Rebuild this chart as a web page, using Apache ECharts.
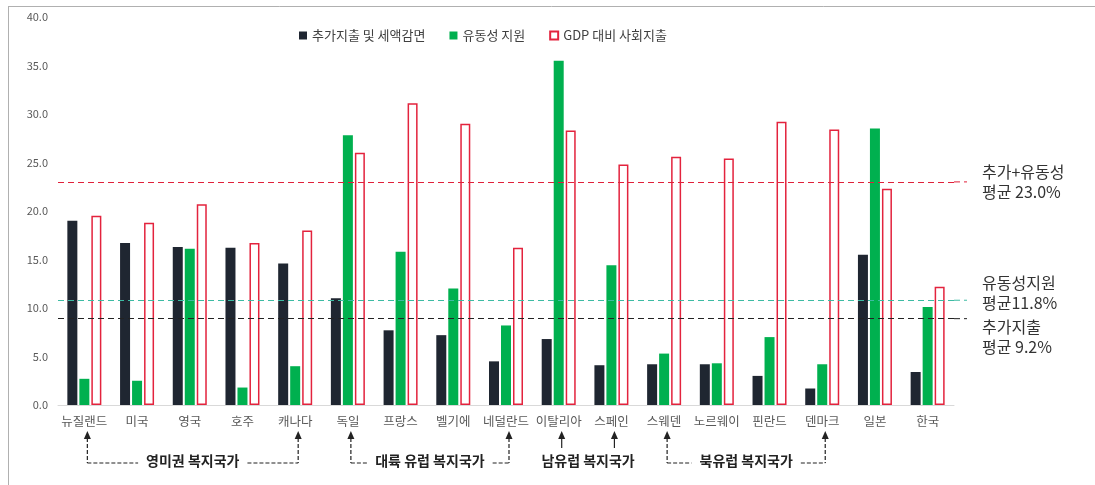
<!DOCTYPE html>
<html>
<head>
<meta charset="utf-8">
<script src="https://cdn.jsdelivr.net/npm/echarts@6.0.0/dist/echarts.min.js"></script>
<style>
  html, body { margin: 0; padding: 0; background: #fff; }
  #chart { width: 1095px; height: 485px; }
</style>
</head>
<body>
<div id="chart"></div>
<script>
// 국가 목록
const categories = ['뉴질랜드', '미국', '영국', '호주', '캐나다', '독일', '프랑스', '벨기에', '네덜란드',
  '이탈리아', '스페인', '스웨덴', '노르웨이', '핀란드', '덴마크', '일본', '한국'];

// 시리즈 값 (GDP 대비 %)
const extraSpending = [19.0, 16.7, 16.3, 16.2, 14.6, 11.0, 7.7, 7.2, 4.5, 6.8, 4.1, 4.2, 4.2, 3.0, 1.7, 15.5, 3.4];
const liquidity = [2.7, 2.5, 16.1, 1.8, 4.0, 27.8, 15.8, 12.0, 8.2, 35.5, 14.4, 5.3, 4.3, 7.0, 4.2, 28.5, 10.1];
const socialSpending = [19.5, 18.8, 20.7, 16.7, 18.0, 26.0, 31.1, 29.0, 16.2, 28.3, 24.8, 25.6, 25.4, 29.2, 28.4, 22.3, 12.2];

const seriesNames = ['추가지출 및 세액감면', '유동성 지원', 'GDP 대비 사회지출'];

// 평균선 (그림에서 읽은 위치)
const avgValues = [23.0, 10.8, 8.9];
const avgLabels = ['추가+유동성\n평균 23.0%', '유동성지원\n평균11.8%', '추가지출\n평균 9.2%'];
const avgColors = ['#e0203a', '#3dbba3', '#222222'];
const avgLabelOffsets = [0, -7, 18];

// y축 눈금
const yMin = 0, yMax = 40, yStep = 5;

// 국가 그룹 주석
const groupNames = ['영미권 복지국가', '대륙 유럽 복지국가', '남유럽 복지국가', '북유럽 복지국가'];
const groupFrom = ['뉴질랜드', '독일', '이탈리아', '스웨덴'];
const groupTo = ['캐나다', '네덜란드', '스페인', '덴마크'];
const groupBracket = [true, true, false, true];

const FONT = '"Noto Sans CJK KR", "Noto Sans", sans-serif';

const chart = echarts.init(document.getElementById('chart'));

const option = {
  backgroundColor: '#fff',
  animation: false,
  textStyle: { fontFamily: FONT },
  legend: {
    top: 24,
    left: 294,
    itemWidth: 8,
    itemHeight: 8,
    itemGap: 24,
    icon: 'rect',
    textStyle: { fontSize: 13, color: '#404040', fontFamily: FONT },
    data: seriesNames
  },
  grid: { left: 58, right: 141, top: 17, bottom: 80 },
  xAxis: {
    type: 'category',
    data: categories,
    axisTick: { show: false },
    axisLine: { lineStyle: { color: '#d9d9d9' } },
    axisLabel: { interval: 0, color: '#595959', fontSize: 12.5, margin: 10, fontFamily: FONT }
  },
  yAxis: {
    type: 'value',
    min: yMin,
    max: yMax,
    interval: yStep,
    axisLine: { show: false },
    axisTick: { show: false },
    splitLine: { show: false },
    axisLabel: {
      color: '#595959', fontSize: 11, margin: 10, fontFamily: FONT,
      formatter: v => v.toFixed(1)
    }
  },
  series: [
    {
      name: seriesNames[0],
      type: 'bar',
      data: extraSpending,
      barWidth: 10,
      barGap: '20%',
      itemStyle: { color: '#1f2631' },
      markLine: {
        silent: true,
        symbol: 'none',
        label: { show: false },
        data: avgValues.map((v, i) => ({
          yAxis: v,
          lineStyle: { color: avgColors[i], type: [6, 4], width: 1 }
        }))
      }
    },
    {
      name: seriesNames[1],
      type: 'bar',
      data: liquidity,
      barWidth: 10,
      barGap: '20%',
      itemStyle: { color: '#00b04f' }
    },
    {
      name: seriesNames[2],
      type: 'bar',
      data: socialSpending,
      barWidth: 10,
      barGap: '20%',
      itemStyle: { color: '#ffffff', borderColor: '#e3233d', borderWidth: 1.5 }
    }
  ]
};

chart.setOption(option);

// 주석 그리기
const measure = (() => {
  const ctx = document.createElement('canvas').getContext('2d');
  return (text, font) => { ctx.font = font; return ctx.measureText(text).width; };
})();

const graphics = [];
const gridRight = 1095 - 141;

// 오른쪽 평균 라벨
avgValues.forEach((v, i) => {
  const y = chart.convertToPixel({ yAxisIndex: 0 }, v);
  graphics.push({
    type: 'text',
    left: gridRight + 28,
    top: y + avgLabelOffsets[i] - 20,
    style: { text: avgLabels[i], font: '16px ' + FONT, fill: '#333', lineHeight: 20 }
  });
  // 평균선 끝 연장
  graphics.push({
    type: 'line',
    shape: { x1: gridRight, y1: y, x2: gridRight + 13, y2: y },
    style: { stroke: avgColors[i], lineWidth: 1, lineDash: [6, 4] }
  });
});

// 아래 그룹 주석
const tipY = 431, baseY = 463;
const labelFont = 'bold 14px ' + FONT;
const dashStyle = { stroke: '#222', lineWidth: 1.2, lineDash: [4, 2] };
const solidStyle = { stroke: '#222', lineWidth: 1.2 };
const arrow = (x, bracket) => {
  graphics.push({
    type: 'polygon',
    shape: { points: [[x, tipY], [x - 3.5, tipY + 8], [x + 3.5, tipY + 8]] },
    style: { fill: '#222' }
  });
  graphics.push({
    type: 'line',
    shape: { x1: x, y1: tipY + 7, x2: x, y2: bracket ? baseY : tipY + 17 },
    style: bracket ? dashStyle : solidStyle
  });
};
groupNames.forEach((name, i) => {
  const x1 = chart.convertToPixel({ xAxisIndex: 0 }, groupFrom[i]) + 3;
  const x2 = chart.convertToPixel({ xAxisIndex: 0 }, groupTo[i]) + 3;
  const cx = (x1 + x2) / 2;
  const w = measure(name, labelFont);
  arrow(x1, groupBracket[i]);
  arrow(x2, groupBracket[i]);
  graphics.push({
    type: 'text',
    left: cx - w / 2,
    top: baseY - 9,
    style: { text: name, font: labelFont, fill: '#222' }
  });
  if (groupBracket[i]) {
    graphics.push({
      type: 'line',
      shape: { x1: x1, y1: baseY, x2: cx - w / 2 - 8, y2: baseY },
      style: dashStyle
    });
    graphics.push({
      type: 'line',
      shape: { x1: cx + w / 2 + 8, y1: baseY, x2: x2, y2: baseY },
      style: dashStyle
    });
  }
});

// 바깥 테두리 (위, 왼쪽)
graphics.push({
  type: 'line',
  shape: { x1: 8, y1: 6.5, x2: 1095, y2: 6.5 },
  style: { stroke: '#b0b0b0', lineWidth: 1 }
});
graphics.push({
  type: 'line',
  shape: { x1: 8.5, y1: 6, x2: 8.5, y2: 485 },
  style: { stroke: '#b0b0b0', lineWidth: 1 }
});

chart.setOption({ graphic: graphics });
</script>
</body>
</html>
